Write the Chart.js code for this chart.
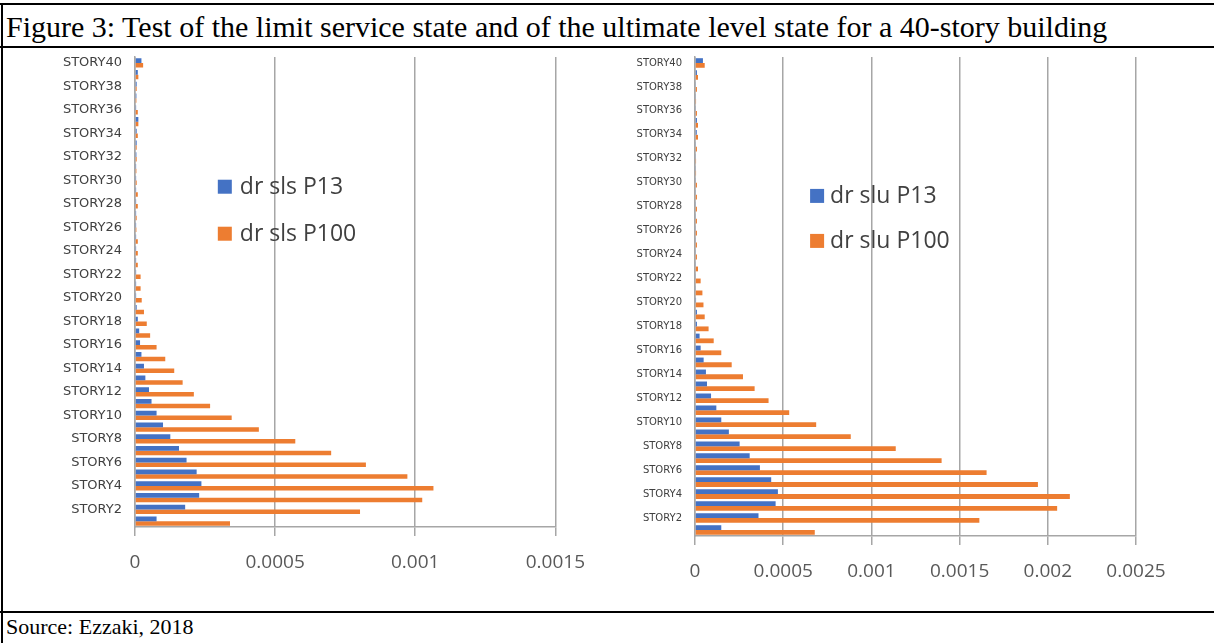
<!DOCTYPE html>
<html lang="en">
<head>
    <meta charset="UTF-8">
    <title>Figure 3</title>
    <script src="https://cdn.jsdelivr.net/npm/chart.js"></script>
    <style>
        body { margin: 0; background: #fff; width: 1214px; height: 643px; position: relative; overflow: hidden; }
        .rule { position: absolute; background: #000; }
        .caption { position: absolute; left: 6px; font-family: "Liberation Serif", "Times New Roman", serif; font-size: 22px; line-height: 26px; color: #000; white-space: nowrap; }
        .caption.title { font-size: 30px; line-height: 30px; }
        canvas { position: absolute; }
    </style>
</head>
<body>
    <div class="rule" style="left:0; top:3px; width:1214px; height:2px;"></div>
    <div class="rule" style="left:1px; top:3px; width:2px; height:640px;"></div>
    <div class="rule" style="left:0; top:46px; width:1214px; height:2px;"></div>
    <div class="rule" style="left:0; top:611px; width:1214px; height:2px;"></div>
    <div class="caption title" style="top:12px;">Figure 3: Test of the limit service state and of the ultimate level state for a 40-story building</div>
    <div class="caption" style="top:614px;">Source: Ezzaki, 2018</div>

    <canvas id="slsChart" width="590" height="550" style="left:10px; top:50px;"></canvas>
    <canvas id="sluChart" width="609" height="550" style="left:605px; top:50px;"></canvas>

    <script>
        // stories 1..40, bottom to top
        const stories = Array.from({ length: 40 }, (_, i) => "STORY" + (i + 1));

        // limit service state
        const slsP13 = [
            7.7e-5, 1.79e-4, 2.29e-4, 2.37e-4, 2.20e-4, 1.84e-4, 1.57e-4, 1.26e-4, 1.0e-4, 7.7e-5,
            5.9e-5, 5.0e-5, 3.7e-5, 3.2e-5, 2.3e-5, 1.8e-5, 1.5e-5, 1.0e-5, 6e-6, 4e-6,
            4e-6, 4e-6, 4e-6, 4e-6, 4e-6, 4e-6, 4e-6, 4e-6, 4e-6, 4e-6,
            4e-6, 5e-6, 6e-6, 6e-6, 1.2e-5, 4e-6, 5e-6, 6e-6, 1.0e-5, 2.3e-5
        ];
        const slsP100 = [
            3.39e-4, 8.03e-4, 1.025e-3, 1.065e-3, 9.72e-4, 8.24e-4, 7.0e-4, 5.72e-4, 4.42e-4, 3.45e-4,
            2.68e-4, 2.1e-4, 1.7e-4, 1.4e-4, 1.08e-4, 7.7e-5, 5.4e-5, 4.2e-5, 3.2e-5, 2.4e-5,
            2.0e-5, 2.0e-5, 1.0e-5, 1.0e-5, 1.0e-5, 5e-6, 6e-6, 1.0e-5, 1.0e-5, 6e-6,
            5e-6, 6e-6, 6e-6, 1.0e-5, 1.2e-5, 1.0e-5, 5e-6, 6e-6, 1.2e-5, 2.9e-5
        ];

        // ultimate level state
        const sluP13 = [
            1.49e-4, 3.6e-4, 4.57e-4, 4.7e-4, 4.32e-4, 3.68e-4, 3.1e-4, 2.53e-4, 1.92e-4, 1.49e-4,
            1.21e-4, 9.1e-5, 6.8e-5, 6.2e-5, 4.9e-5, 3.2e-5, 2.6e-5, 1.1e-5, 1.1e-5, 6e-6,
            5e-6, 5e-6, 5e-6, 5e-6, 5e-6, 5e-6, 5e-6, 5e-6, 5e-6, 5e-6,
            5e-6, 5e-6, 5e-6, 1.0e-5, 1.1e-5, 5e-6, 5e-6, 5e-6, 1.1e-5, 4.5e-5
        ];
        const sluP100 = [
            6.79e-4, 1.612e-3, 2.053e-3, 2.125e-3, 1.944e-3, 1.653e-3, 1.398e-3, 1.138e-3, 8.83e-4, 6.87e-4,
            5.34e-4, 4.17e-4, 3.38e-4, 2.72e-4, 2.08e-4, 1.49e-4, 1.06e-4, 7.7e-5, 5.5e-5, 4.8e-5,
            4.2e-5, 3.2e-5, 1.7e-5, 1.1e-5, 1.1e-5, 1.1e-5, 1.1e-5, 1.1e-5, 1.1e-5, 1.1e-5,
            6e-6, 6e-6, 1.1e-5, 1.7e-5, 1.7e-5, 1.1e-5, 6e-6, 1.1e-5, 1.7e-5, 5.5e-5
        ];

        const slsTicks = ["0", "0.0005", "0.001", "0.0015"];
        const sluTicks = ["0", "0.0005", "0.001", "0.0015", "0.002", "0.0025"];

        const BLUE = "#4472C4";
        const ORANGE = "#ED7D31";
        const GRID = "#a6a6a6";

        Chart.defaults.font.family = "'Open Sans', sans-serif";
        Chart.defaults.color = "#595959";

        // legend drawn inside the plot area, like the Excel original
        const insideLegend = {
            id: "insideLegend",
            afterDatasetsDraw(chart, args, opts) {
                const { ctx, chartArea: a } = chart;
                const x = a.left + opts.x * a.width;
                let y = a.top + opts.y * a.height;
                ctx.save();
                ctx.font = opts.font;
                ctx.textBaseline = "middle";
                chart.data.datasets.forEach((ds) => {
                    ctx.fillStyle = ds.backgroundColor;
                    ctx.fillRect(x, y - 7, 14, 14);
                    ctx.fillStyle = "#404040";
                    ctx.fillText(ds.label, x + opts.textGap, y + 1);
                    y += opts.gap;
                });
                ctx.restore();
            }
        };

        function makeChart(id, cfg) {
            new Chart(document.getElementById(id), {
                type: "bar",
                data: {
                    labels: stories,
                    datasets: [
                        { label: cfg.names[0], data: cfg.p13, backgroundColor: BLUE },
                        { label: cfg.names[1], data: cfg.p100, backgroundColor: ORANGE }
                    ]
                },
                options: {
                    indexAxis: "y",
                    responsive: false,
                    animation: false,
                    devicePixelRatio: 1,
                    categoryPercentage: 0.8,
                    barPercentage: 1,
                    layout: { padding: { top: 7, right: cfg.padRight, left: 0, bottom: 0 } },
                    plugins: {
                        legend: { display: false },
                        tooltip: { enabled: false },
                        insideLegend: cfg.legend
                    },
                    scales: {
                        x: {
                            min: 0,
                            max: cfg.max,
                            ticks: {
                                stepSize: 0.0005,
                                padding: cfg.xTickPad,
                                font: { size: cfg.xFont },
                                color: "#595959",
                                callback: (v, i) => cfg.ticks[i]
                            },
                            grid: { color: GRID, lineWidth: 1.5, tickLength: 9 },
                            border: { color: GRID, width: 1.5 },
                            afterFit: (s) => { s.height = cfg.xHeight; }
                        },
                        y: {
                            reverse: true,
                            grid: { display: false, drawTicks: false },
                            border: { color: GRID, width: 1.5 },
                            ticks: {
                                autoSkip: false,
                                padding: 13,
                                font: { family: "'DejaVu Sans', sans-serif", size: cfg.yFont },
                                color: "#404040",
                                callback: function (v) {
                                    return (v + 1) % 2 === 0 ? this.getLabelForValue(v) : "";
                                }
                            },
                            afterFit: (s) => {
                                s.width = cfg.yWidth;
                                s.paddingTop = 0;
                                s.paddingBottom = 0;
                            }
                        }
                    }
                },
                plugins: [insideLegend]
            });
        }

        makeChart("slsChart", {
            names: ["dr sls P13", "dr sls P100"],
            p13: slsP13, p100: slsP100, ticks: slsTicks, max: 0.0015,
            padRight: 33, yWidth: 125, xHeight: 73, xTickPad: 15, xFont: 19, yFont: 13,
            legend: { x: 0.197, y: 0.276, gap: 47, textGap: 22, font: "23px 'Open Sans', sans-serif" }
        });

        makeChart("sluChart", {
            names: ["dr slu P13", "dr slu P100"],
            p13: sluP13, p100: sluP100, ticks: sluTicks, max: 0.0025,
            padRight: 78, yWidth: 90, xHeight: 64, xTickPad: 15, xFont: 19, yFont: 10,
            legend: { x: 0.261, y: 0.29, gap: 45, textGap: 20, font: "23px 'Open Sans', sans-serif" }
        });
    </script>
</body>
</html>
